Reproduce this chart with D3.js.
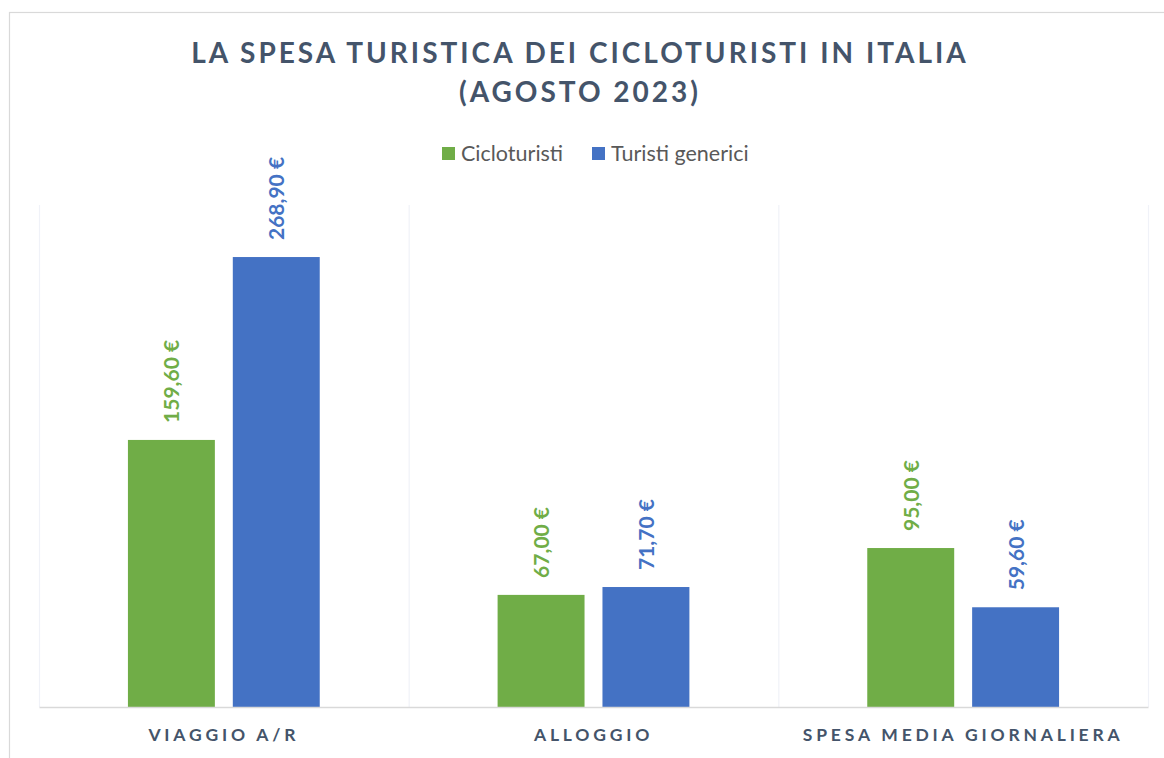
<!DOCTYPE html>
<html>
<head>
<meta charset="utf-8">
<script src="https://cdn.jsdelivr.net/npm/d3@7"></script>
<style>
  body { margin: 0; background: #fff; }
  svg { display: block; font-family: Lato, "Open Sans", sans-serif; }
</style>
</head>
<body>
<script>
const w = 1164;
const h = 758;
const padding = { top: 205, right: 16, bottom: 51, left: 39 };

const categories = ['VIAGGIO A/R', 'ALLOGGIO', 'SPESA MEDIA GIORNALIERA'];
const series = ['Cicloturisti', 'Turisti generici'];
const cicloturisti = [159.6, 67.0, 95.0];
const turistiGenerici = [268.9, 71.7, 59.6];
const colors = ['#70AD47', '#4472C4'];
const titleLines = ['LA SPESA TURISTICA DEI CICLOTURISTI IN ITALIA', '(AGOSTO 2023)'];

const values = [cicloturisti, turistiGenerici];
const rows = categories.map((c, i) => ({
  cat: c,
  vals: series.map((s, j) => ({ key: s, idx: j, value: values[j][i] }))
}));

const svg = d3.select('body').append('svg')
  .attr('width', w)
  .attr('height', h);

// chart frame
svg.append('rect')
  .attr('x', 9.5).attr('y', 12.5)
  .attr('width', w + 20).attr('height', h + 20)
  .attr('fill', 'none')
  .attr('stroke', '#D9D9D9')
  .attr('stroke-width', 1.2);

const xScale = d3.scaleBand().domain(categories).range([padding.left, w - padding.right]);
const xInner = d3.scaleBand().domain(series).range([0, xScale.bandwidth()])
  .paddingInner(0.171).paddingOuter(0.848);
const yScale = d3.scaleLinear().domain([0, 300]).range([h - padding.bottom, padding.top]);

// vertical separators between categories
const edges = categories.map(c => xScale(c)).concat([w - padding.right]);
svg.append('g').selectAll('line')
  .data(edges)
  .enter().append('line')
  .attr('x1', d => d + 0.5).attr('x2', d => d + 0.5)
  .attr('y1', padding.top).attr('y2', h - padding.bottom)
  .attr('stroke', '#F0F2F8')
  .attr('stroke-width', 1.2);

const groups = svg.append('g').selectAll('g')
  .data(rows)
  .enter().append('g')
  .attr('transform', d => `translate(${xScale(d.cat)},0)`);

groups.selectAll('rect')
  .data(d => d.vals)
  .enter().append('rect')
  .attr('x', d => xInner(d.key))
  .attr('y', d => yScale(d.value))
  .attr('width', xInner.bandwidth())
  .attr('height', d => yScale(0) - yScale(d.value))
  .attr('fill', d => colors[d.idx]);

const fmt = v => v.toFixed(2).replace('.', ',') + ' €';

groups.selectAll('text')
  .data(d => d.vals)
  .enter().append('text')
  .attr('transform', d => `translate(${xInner(d.key) + xInner.bandwidth() / 2 + 8},${yScale(d.value) - 17}) rotate(-90)`)
  .attr('text-anchor', 'start')
  .attr('fill', d => colors[d.idx])
  .style('font-size', '21px')
  .style('font-weight', 700)
  .text(d => fmt(d.value));

// x axis
const xAxis = d3.axisBottom(xScale).tickSize(0).tickPadding(22);
const gx = svg.append('g')
  .attr('transform', `translate(0,${h - padding.bottom})`)
  .call(xAxis);
gx.select('.domain').attr('stroke', '#D9D9D9').attr('stroke-width', 1.5);
gx.selectAll('text')
  .attr('fill', '#44546A')
  .style('font-family', 'Lato, "Open Sans", sans-serif')
  .style('font-size', '17.5px')
  .style('font-weight', 700)
  .style('letter-spacing', '3.8px');

// title
svg.append('g').selectAll('text')
  .data(titleLines)
  .enter().append('text')
  .attr('x', w / 2 - 2)
  .attr('y', (d, i) => 63 + i * 39)
  .attr('text-anchor', 'middle')
  .attr('fill', '#44546A')
  .style('font-size', '28px')
  .style('font-weight', 700)
  .style('letter-spacing', '3px')
  .text(d => d);

// legend
const legendX = [442, 592];
const legend = svg.append('g').selectAll('g')
  .data(series)
  .enter().append('g')
  .attr('transform', (d, i) => `translate(${legendX[i]},147)`);
legend.append('rect')
  .attr('width', 13).attr('height', 13)
  .attr('fill', (d, i) => colors[i]);
legend.append('text')
  .attr('x', 19).attr('y', 14)
  .attr('fill', '#595959')
  .style('font-size', '21.5px')
  .text(d => d);
</script>
</body>
</html>
